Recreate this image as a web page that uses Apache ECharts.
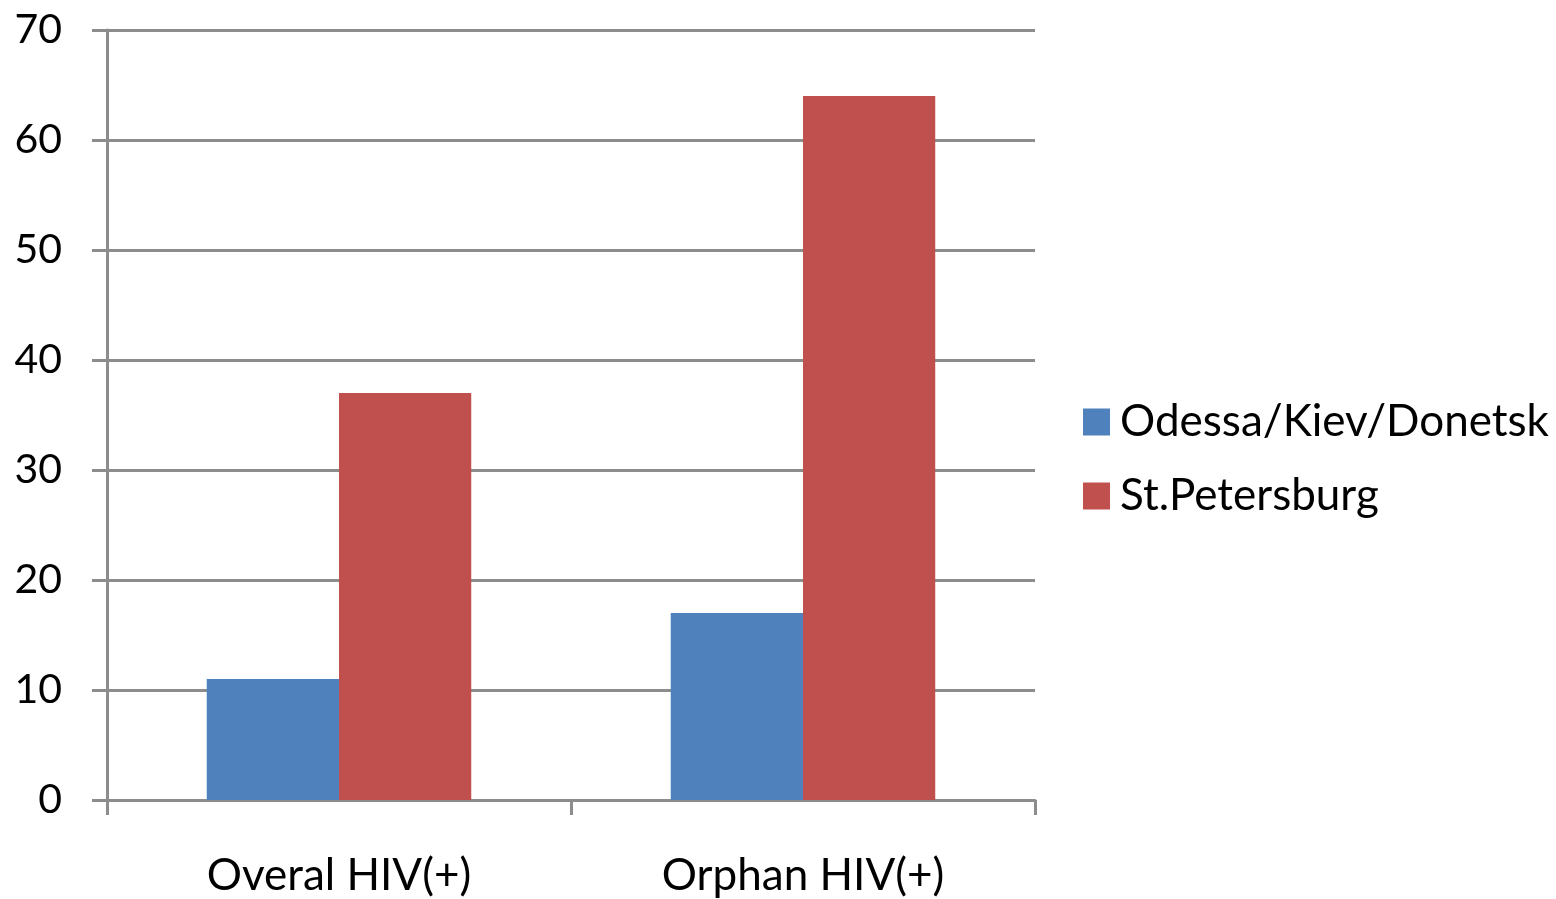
<!DOCTYPE html>
<html>
<head>
<meta charset="utf-8">
<script src="https://cdn.jsdelivr.net/npm/echarts@6/dist/echarts.min.js"></script>
<style>
  html, body { margin: 0; padding: 0; background: #fff; }
  #chart { width: 1556px; height: 899px; }
</style>
</head>
<body>
<div id="chart"></div>
<script>
// categories and values
var categories = ['Overal HIV(+)', 'Orphan HIV(+)'];
var seriesNames = ['Odessa/Kiev/Donetsk', 'St.Petersburg'];
var odessaValues = [11, 17];
var stPeteValues = [37, 64];

var fontFamily = 'Lato, "Open Sans", sans-serif';
var gridColor = '#8c8c8c';

var myChart = echarts.init(document.getElementById('chart'));

var option = {
    animation: false,
    grid: {
        left: 107,
        right: 521,
        top: 30,
        bottom: 99,
        containLabel: false
    },
    legend: {
        orient: 'vertical',
        left: 1083,
        top: 400,
        padding: 0,
        itemWidth: 27,
        itemHeight: 27,
        itemGap: 30,
        icon: 'rect',
        textStyle: {
            fontFamily: fontFamily,
            fontSize: 44,
            color: '#000',
            padding: [0, 0, 0, 5]
        },
        data: seriesNames
    },
    xAxis: {
        type: 'category',
        data: categories,
        axisLine: { lineStyle: { color: gridColor, width: 3 } },
        axisTick: { show: true, length: 15, lineStyle: { color: gridColor, width: 3 } },
        axisLabel: {
            fontFamily: fontFamily,
            fontSize: 44,
            color: '#000',
            margin: 54
        }
    },
    yAxis: {
        type: 'value',
        min: 0,
        max: 70,
        interval: 10,
        axisLine: { show: true, lineStyle: { color: gridColor, width: 3 } },
        axisTick: { show: true, length: 15, lineStyle: { color: gridColor, width: 3 } },
        splitLine: { show: true, lineStyle: { color: gridColor, width: 3 } },
        axisLabel: {
            fontFamily: fontFamily,
            fontSize: 41,
            color: '#000',
            margin: 45
        }
    },
    series: [{
        name: seriesNames[0],
        type: 'bar',
        data: odessaValues,
        barGap: '0%',
        barCategoryGap: '43%',
        itemStyle: { color: '#4f81bd' }
    }, {
        name: seriesNames[1],
        type: 'bar',
        data: stPeteValues,
        itemStyle: { color: '#c0504d' }
    }]
};

myChart.setOption(option);
</script>
</body>
</html>
